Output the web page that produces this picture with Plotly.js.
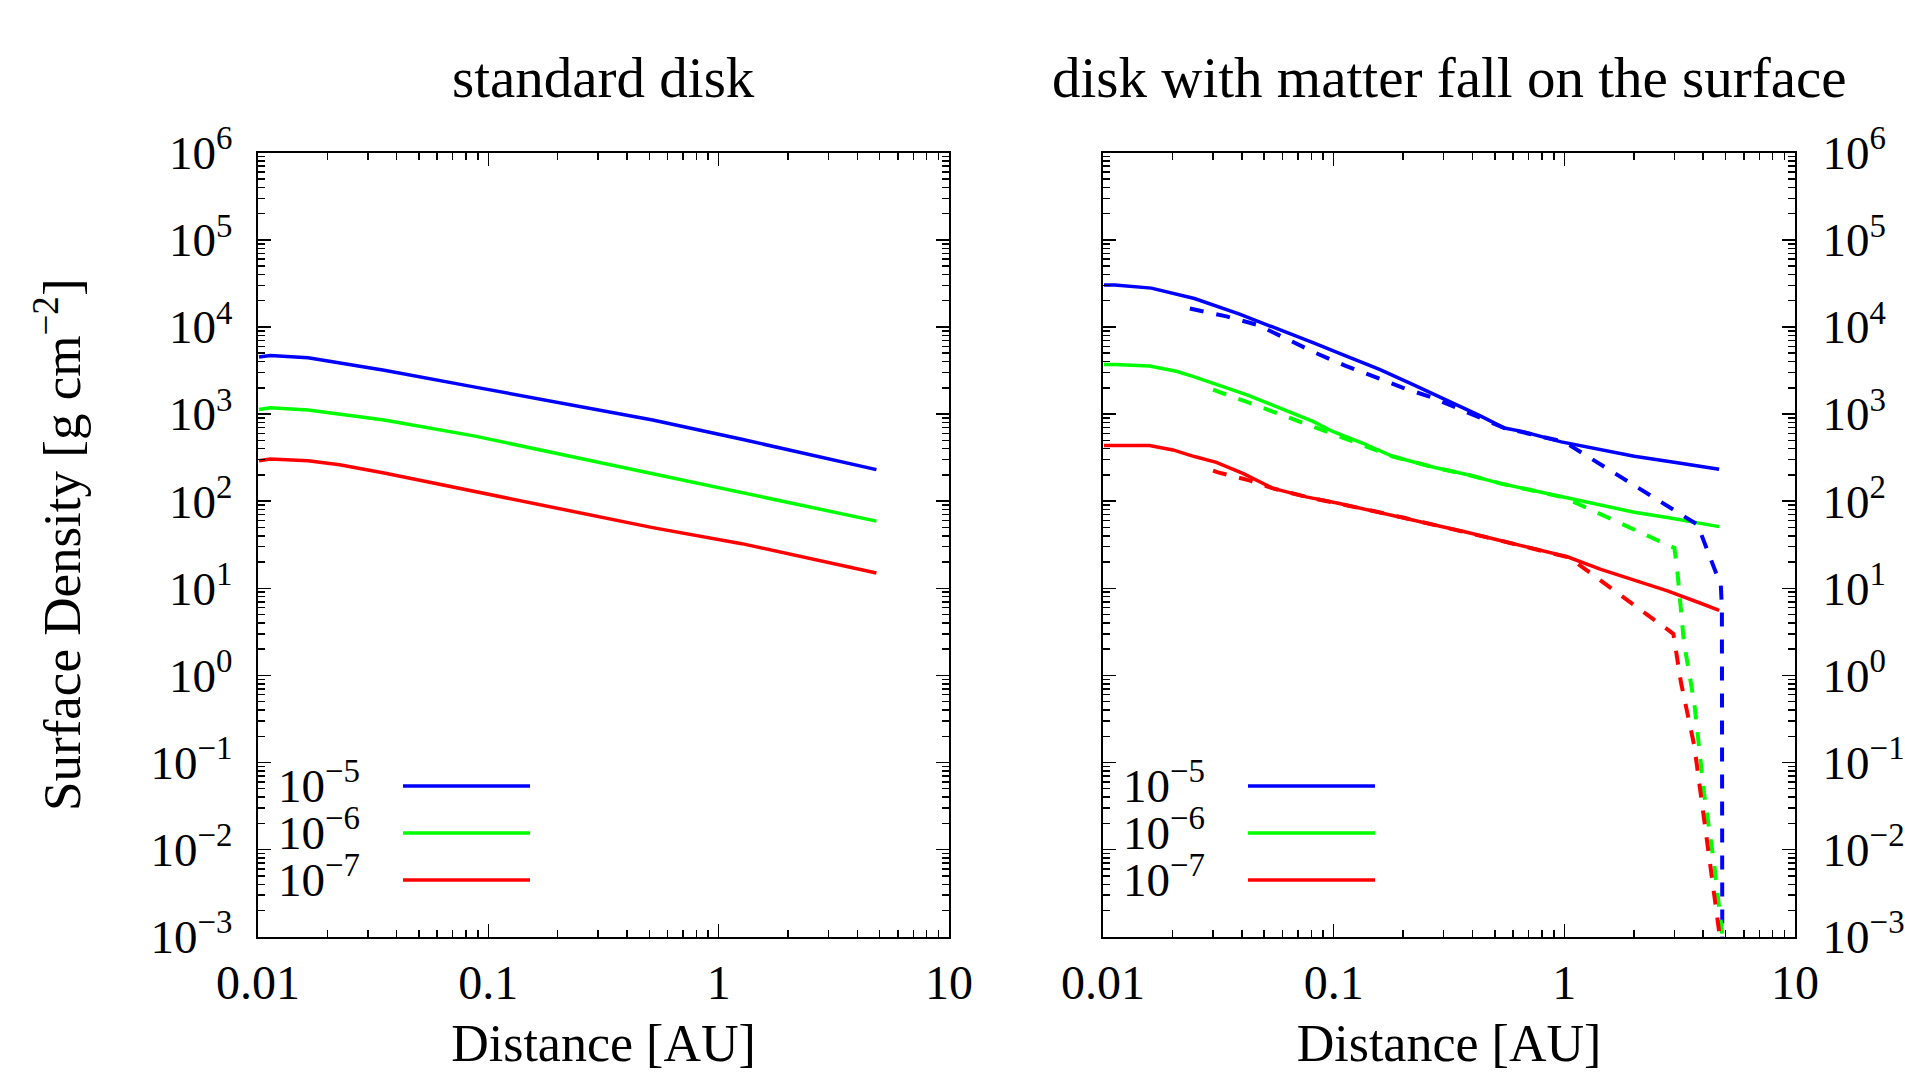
<!DOCTYPE html>
<html>
<head>
<meta charset="utf-8">
<script src="https://cdn.plot.ly/plotly-3.0.1.min.js"></script>
<style>html,body{margin:0;padding:0;background:#fff;}#chart{width:1905px;height:1072px;}</style>
</head>
<body>
<div id="chart"></div>
<script>
// ---------- data ----------
const panelTitles = ["standard disk", "disk with matter fall on the surface"];
const seriesNames = ["10<sup>\u22125</sup>", "10<sup>\u22126</sup>", "10<sup>\u22127</sup>"];
const seriesColors = ["#0000ff", "#00ff00", "#ff0000"];
const xTickVals = [0.01, 0.1, 1, 10];
const xTickText = ["0.01", "0.1", "1", "10"];
const yTickVals = [1e-3, 1e-2, 1e-1, 1e0, 1e1, 1e2, 1e3, 1e4, 1e5, 1e6];
const yTickText = ["10<sup>\u22123</sup>", "10<sup>\u22122</sup>", "10<sup>\u22121</sup>", "10<sup>0</sup>",
  "10<sup>1</sup>", "10<sup>2</sup>", "10<sup>3</sup>", "10<sup>4</sup>", "10<sup>5</sup>", "10<sup>6</sup>"];

// left panel: standard disk
const stdX     = [0.0101, 0.0113, 0.0165, 0.0226, 0.0353, 0.0865, 0.211, 0.517, 1.26, 4.84];
const stdBlue  = [4510, 4710, 4430, 3880, 3180, 2050, 1320, 855, 513, 230];
const stdGreen = [1130, 1180, 1110, 990, 855, 561, 341, 210, 128, 59];
const stdRed   = [291, 304, 291, 262, 210, 130, 80.4, 49.7, 32.5, 15.0];

// right panel: solid lines
const fallBlueX  = [0.0101, 0.01125, 0.0162, 0.0249, 0.0391, 0.0583, 0.0813, 0.1135, 0.158, 0.221, 0.308, 0.43, 0.55, 0.67, 0.97, 1.44, 2.01, 2.99, 4.69];
const fallBlueY  = [30300, 30300, 27900, 21200, 14000, 9400, 6600, 4630, 3250, 2180, 1460, 960, 690, 624, 479, 389, 328, 280, 232];
const fallGreenX = [0.0101, 0.01125, 0.0159, 0.0208, 0.0249, 0.0343, 0.0418, 0.0564, 0.0813, 0.099, 0.134, 0.181, 0.221, 0.274, 0.382, 0.532, 0.741, 1.03, 1.44, 2.01, 2.8, 3.9, 4.69];
const fallGreenY = [3710, 3710, 3550, 3100, 2670, 2000, 1670, 1220, 822, 631, 462, 325, 284, 243, 201, 159, 131.5, 109, 90, 74.6, 64.8, 56, 51];
const fallRedX   = [0.0101, 0.01125, 0.0159, 0.0201, 0.0249, 0.031, 0.0404, 0.0546, 0.076, 0.106, 0.143, 0.2, 0.279, 0.382, 0.532, 0.741, 1.03, 1.44, 2.01, 2.8, 3.9, 4.69];
const fallRedY   = [435, 435, 435, 387, 325, 279, 208, 140, 112, 94, 78.7, 64.8, 52.9, 43.6, 35.1, 28.2, 23, 16.5, 12.4, 9.35, 6.73, 5.57];

// right panel: dashed lines
const dashBlueX  = [0.0238, 0.0343, 0.047, 0.0624, 0.083, 0.112, 0.151, 0.2, 0.27, 0.36, 0.55, 1.0, 3.78, 4.77, 4.82, 4.84];
const dashBlueY  = [16300, 13200, 10500, 7400, 5060, 3600, 2670, 2000, 1530, 1120, 690, 479, 53.7, 10.8, 6.0, 0.0005];
const dashGreenX = [0.030, 0.0318, 0.0429, 0.0578, 0.078, 0.105, 0.142, 0.181, 0.274, 0.382, 0.532, 0.741, 1.0, 3.0, 3.09, 3.3, 3.66, 4.03, 4.46, 4.84, 4.9];
const dashGreenY = [1910, 1795, 1352, 1009, 753, 568, 424, 325, 243, 201, 159, 131.5, 110, 29, 15.7, 2.4, 0.48, 0.045, 0.0069, 0.00105, 0.0005];
const dashRedX   = [0.030, 0.0315, 0.0434, 0.0546, 0.076, 0.106, 0.143, 0.2, 0.279, 0.382, 0.532, 0.741, 1.05, 2.97, 3.2, 3.66, 4.17, 4.69, 4.75];
const dashRedY   = [224, 214, 172, 140, 112, 94, 78.7, 64.8, 52.9, 43.6, 35.1, 28.2, 22.5, 3.0, 0.84, 0.155, 0.0126, 0.00114, 0.0005];

// ---------- styling ----------
const FONT = "Liberation Serif, Times New Roman, serif";
const W = 1905, H = 1072;
const px = v => v / W, py = v => 1 - v / H;
const xDom1 = [px(258), px(949)], xDom2 = [px(1103), px(1795)];
const yDom = [py(936.7), py(152.7)];
const dashStyle = "14px,13px";

function line(x, y, color, xa, ya, dash) {
  return {x: x, y: y, type: "scatter", mode: "lines", xaxis: xa, yaxis: ya, showlegend: false,
    hoverinfo: "skip", line: {color: color, width: dash ? 4 : 3.5, dash: dash || "solid"}};
}

const traces = [
  line(stdX, stdBlue, seriesColors[0], "x", "y"),
  line(stdX, stdGreen, seriesColors[1], "x", "y"),
  line(stdX, stdRed, seriesColors[2], "x", "y"),
  line(fallBlueX, fallBlueY, seriesColors[0], "x2", "y2"),
  line(fallGreenX, fallGreenY, seriesColors[1], "x2", "y2"),
  line(fallRedX, fallRedY, seriesColors[2], "x2", "y2"),
  line(dashBlueX, dashBlueY, seriesColors[0], "x2", "y2", dashStyle),
  line(dashGreenX, dashGreenY, seriesColors[1], "x2", "y2", dashStyle),
  line(dashRedX, dashRedY, seriesColors[2], "x2", "y2", dashStyle)
];

function xAxis(domain, anchor) {
  return {type: "log", range: [-2, 1], domain: domain, anchor: anchor,
    tickmode: "array", tickvals: xTickVals, ticktext: xTickText,
    ticks: "inside", ticklen: 13, tickwidth: 1.5, tickcolor: "#000", mirror: "allticks",
    showline: true, linewidth: 2.2, linecolor: "#000", showgrid: false, zeroline: false,
    minor: {ticks: "inside", ticklen: 7, tickwidth: 1.5, tickcolor: "#000", dtick: "D1", showgrid: false},
    tickfont: {family: FONT, size: 48, color: "#000"}, ticklabelstandoff: 2,
    title: {text: "Distance [AU]", font: {family: FONT, size: 52, color: "#000"}, standoff: 27},
    automargin: false};
}
function yAxis(domain, anchor, side, standoff) {
  return {type: "log", range: [-3, 6], domain: domain, anchor: anchor, side: side,
    tickmode: "array", tickvals: yTickVals, ticktext: yTickText,
    ticks: "inside", ticklen: 13, tickwidth: 1.5, tickcolor: "#000", mirror: "allticks",
    showline: true, linewidth: 2.2, linecolor: "#000", showgrid: false, zeroline: false,
    minor: {ticks: "inside", ticklen: 7, tickwidth: 1.5, tickcolor: "#000", dtick: "D1", showgrid: false},
    tickfont: {family: FONT, size: 47, color: "#000"}, ticklabelstandoff: standoff,
    automargin: false};
}

const ya1 = yAxis(yDom, "x", "left", 14);
ya1.title = {text: "Surface Density [g cm<sup>\u22122</sup>]", font: {family: FONT, size: 53, color: "#000"}, standoff: 53};
const ya2 = yAxis(yDom, "x2", "right", 16);

// titles and manual legends
const annotations = [];
const shapes = [];
[[258, 949], [1103, 1795]].forEach((pl, i) => {
  annotations.push({text: panelTitles[i], xref: "paper", yref: "paper", x: px((pl[0] + pl[1]) / 2), y: py(78),
    xanchor: "center", yanchor: "middle", showarrow: false, font: {family: FONT, size: 57, color: "#000"}});
  seriesNames.forEach((name, k) => {
    const ly = 786 + k * 47;
    annotations.push({text: name, xref: "paper", yref: "paper", x: px(pl[0] + 18), y: py(ly - 4),
      xanchor: "left", yanchor: "middle", showarrow: false, font: {family: FONT, size: 47, color: "#000"}});
    shapes.push({type: "line", xref: "paper", yref: "paper", x0: px(pl[0] + 145), x1: px(pl[0] + 272),
      y0: py(ly), y1: py(ly), line: {color: seriesColors[k], width: 3.5}});
  });
});

const layout = {
  width: W, height: H, margin: {l: 0, r: 0, t: 0, b: 0},
  paper_bgcolor: "#fff", plot_bgcolor: "#fff",
  font: {family: FONT, color: "#000"},
  xaxis: xAxis(xDom1, "y"), yaxis: ya1,
  xaxis2: xAxis(xDom2, "y2"), yaxis2: ya2,
  annotations: annotations, shapes: shapes, showlegend: false
};

Plotly.newPlot("chart", traces, layout, {displayModeBar: false, staticPlot: true});
</script>
</body>
</html>
